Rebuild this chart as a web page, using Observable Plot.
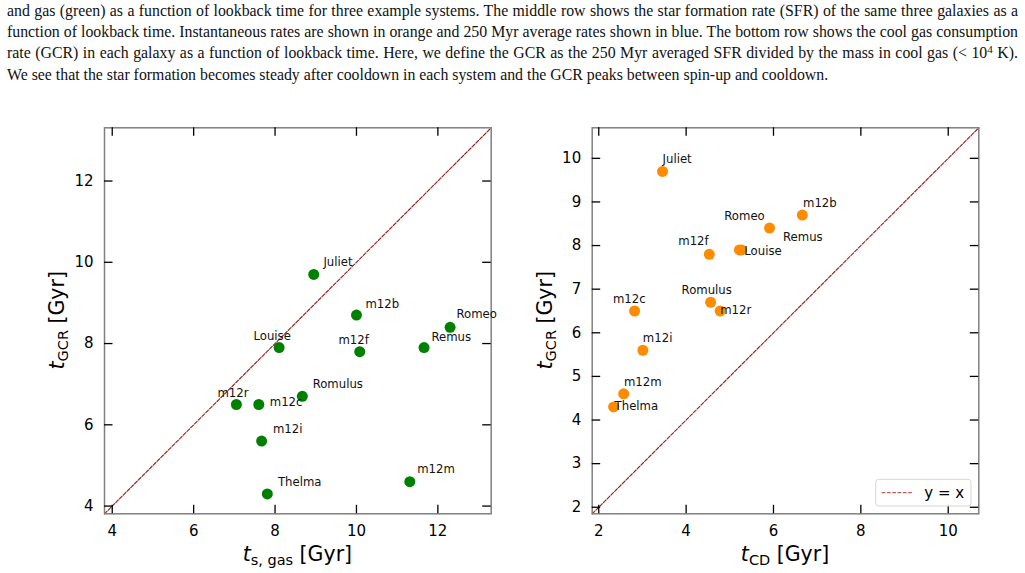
<!DOCTYPE html>
<html>
<head>
<meta charset="utf-8">
<script src="https://cdn.jsdelivr.net/npm/d3@7"></script>
<script src="https://cdn.jsdelivr.net/npm/@observablehq/plot@0.6"></script>
<style>
  body { margin: 0; background: #fff; width: 1025px; height: 573px; overflow: hidden; position: relative; }
  #caption { position: absolute; left: 7px; top: 0; width: 1011px; font-family: "Liberation Serif", "Times New Roman", serif; color: #111; }
  #caption .ln { position: absolute; left: 0; width: 1011px; white-space: nowrap; }
  #caption sup { font-size: 0.7em; vertical-align: baseline; position: relative; top: -0.45em; }
  .panel { position: absolute; top: 90px; }
  .panel svg { overflow: visible; }
</style>
</head>
<body>
<div id="caption"></div>
<div id="left" class="panel" style="left:0px"></div>
<div id="right" class="panel" style="left:512px"></div>
<script>
// ---- Data -------------------------------------------------------------
const galaxies = ["Juliet", "m12b", "Romeo", "Louise", "m12f", "Remus", "m12r", "m12c", "Romulus", "m12i", "Thelma", "m12m"];
// gas consumption timescale t_GCR [Gyr]
const tGCR  = [9.7, 8.7, 8.4, 7.9, 7.8, 7.9, 6.5, 6.5, 6.7, 5.6, 4.3, 4.6];
// gas spin-up time t_s,gas [Gyr]
const tSGas = [8.95, 10.0, 12.3, 8.1, 10.08, 11.66, 7.05, 7.6, 8.67, 7.67, 7.81, 11.31];
// cooldown time t_CD [Gyr]
const tCD   = [3.46, 6.66, 5.91, 5.27, 4.53, 5.22, 4.78, 2.82, 4.56, 3.01, 2.34, 2.57];

const leftTicks   = [4, 6, 8, 10, 12];
const rightXTicks = [2, 4, 6, 8, 10];
const rightYTicks = [2, 3, 4, 5, 6, 7, 8, 9, 10];
const leftLimits  = [3.81, 13.31];
const rightLimits = [1.85, 10.7];

// Caption lines
const captionLines = [
  "and gas (green) as a function of lookback time for three example systems. The middle row shows the star formation rate (SFR) of the same three galaxies as a",
  "function of lookback time. Instantaneous rates are shown in orange and 250 Myr average rates shown in blue. The bottom row shows the cool gas consumption",
  "rate (GCR) in each galaxy as a function of lookback time. Here, we define the GCR as the 250 Myr averaged SFR divided by the mass in cool gas (&lt; 10<sup>4</sup> K).",
  "We see that the star formation becomes steady after cooldown in each system and the GCR peaks between spin-up and cooldown."
];

// ---- Label placement (pixel offsets of each name from its dot) ---------
const leftLabelOffsets = {
  Juliet: [9.7, -12], m12b: [9, -11.3], Romeo: [6.4, -12.7], Louise: [-25.7, -11.7],
  m12f: [-21.3, -11.3], Remus: [7.4, -10.7], m12r: [-19, -11.7], m12c: [11, -2.3],
  Romulus: [10.3, -11.7], m12i: [11.3, -11.7], Thelma: [10.6, -11.6], m12m: [7.4, -12]
};
const rightLabelOffsets = {
  Juliet: [0, -12.4], m12b: [0.7, -12], Romeo: [-45.3, -12.3], Remus: [43.6, -12.4],
  Louise: [2.7, 1], m12f: [-31, -13], Romulus: [-29, -12], m12r: [0, -0.3],
  m12c: [-21.6, -11.7], m12i: [0, -12], m12m: [0.3, -12], Thelma: [1, -0.6]
};

// ---- Caption ------------------------------------------------------------
(function drawCaption() {
  const cap = document.getElementById("caption");
  const baselines = [15.8, 37.2, 58.5, 79.8];
  const lines = captionLines.map(html => {
    const d = document.createElement("div");
    d.className = "ln";
    const s = document.createElement("span");
    s.innerHTML = html;
    d.appendChild(s);
    cap.appendChild(d);
    return {d, s};
  });
  let fs = 15;
  lines.forEach(l => { l.d.style.fontSize = fs + "px"; });
  const w4 = lines[3].s.getBoundingClientRect().width;
  fs = fs * 822 / w4;
  lines.forEach((l, i) => {
    l.d.style.fontSize = fs + "px";
    l.d.style.lineHeight = fs + "px";
    l.d.style.top = (baselines[i] - 0.8375 * fs) + "px";
    if (i < 3) {
      const w = l.s.getBoundingClientRect().width;
      const spaces = (l.s.textContent.match(/ /g) || []).length;
      l.s.style.wordSpacing = ((1011 - w) / spaces) + "px";
    }
  });
})();

// ---- Panels -------------------------------------------------------------
const TICK = 8.5;
const DIAG = "#9a2020";

function panel({el, width, height, margin, xLimits, yLimits, xTicks, yTicks, xs, color, offsets, xSub, legend}) {
  const rows = galaxies.map((name, i) => ({name, x: xs[i], y: tGCR[i]}));
  const fw = width - margin.left - margin.right;
  const fh = height - margin.top - margin.bottom;
  const diag = xLimits.map(v => ({v}));

  const svg = Plot.plot({
    width, height,
    marginLeft: margin.left, marginRight: margin.right,
    marginTop: margin.top, marginBottom: margin.bottom,
    x: {domain: xLimits},
    y: {domain: yLimits},
    style: {fontFamily: "DejaVu Sans", fontSize: "15px", color: "#000", background: "transparent"},
    marks: [
      Plot.line(diag, {x: "v", y: "v", stroke: DIAG, strokeWidth: 1.15, strokeDasharray: "3.7,1.6"}),
      Plot.frame({stroke: "#808080", strokeWidth: 1.5}),
      // inward ticks on all four sides
      Plot.tickX(xTicks, {x: d => d, insetTop: fh - TICK, stroke: "#000", strokeWidth: 1.3}),
      Plot.tickX(xTicks, {x: d => d, insetBottom: fh - TICK, stroke: "#000", strokeWidth: 1.3}),
      Plot.tickY(yTicks, {y: d => d, insetRight: fw - TICK, stroke: "#000", strokeWidth: 1.3}),
      Plot.tickY(yTicks, {y: d => d, insetLeft: fw - TICK, stroke: "#000", strokeWidth: 1.3}),
      Plot.axisX(xTicks, {tickSize: 0, tickPadding: 12, fontSize: 15, label: null}),
      Plot.axisY(yTicks, {tickSize: 0, tickPadding: 11, fontSize: 15, label: null}),
      Plot.dot(rows, {x: "x", y: "y", r: 5.5, fill: color, stroke: "none"}),
      ...galaxies.map(name => Plot.text(rows.filter(d => d.name === name), {
        x: "x", y: "y", text: "name",
        dx: offsets[name][0], dy: offsets[name][1],
        textAnchor: "start", fontSize: 11.7, fill: "#111"
      }))
    ]
  });

  const s = d3.select(svg);
  function mathLabel(x, y, rotate, sub) {
    const t = s.append("text")
      .attr("transform", `translate(${x},${y})` + (rotate ? " rotate(-90)" : ""))
      .attr("text-anchor", "middle")
      .attr("font-family", "DejaVu Sans")
      .attr("font-size", 20.5)
      .attr("fill", "#000")
      .style("white-space", "pre");
    t.append("tspan").attr("font-style", "italic").text("t");
    t.append("tspan").attr("font-size", 14.5).attr("dy", 4).text(sub);
    t.append("tspan").attr("dy", -4).text(" [Gyr]");
  }
  mathLabel(margin.left + fw / 2, margin.top + fh + 47.3, false, xSub);
  mathLabel(margin.left - 40, margin.top + fh / 2, true, "GCR");

  if (legend) {
    const bw = 95.3, bh = 26.7;
    const bx = margin.left + fw - 7.3 - bw, by = margin.top + fh - 7.3 - bh;
    const g = s.append("g");
    g.append("rect").attr("x", bx).attr("y", by).attr("width", bw).attr("height", bh)
      .attr("rx", 3).attr("fill", "#fff").attr("fill-opacity", 0.8)
      .attr("stroke", "#d6d6d6").attr("stroke-width", 1);
    g.append("line").attr("x1", bx + 6).attr("x2", bx + 37.6)
      .attr("y1", by + 13.4).attr("y2", by + 13.4)
      .attr("stroke", DIAG).attr("stroke-opacity", 0.7).attr("stroke-width", 1.3)
      .attr("stroke-dasharray", "3.7,1.6");
    g.append("text").attr("x", bx + 48.6).attr("y", by + 13.4).attr("dy", "0.35em")
      .attr("text-anchor", "start")
      .attr("font-family", "DejaVu Sans").attr("font-size", 15).attr("fill", "#000")
      .text("y = x");
  }
  el.appendChild(svg);
}

panel({
  el: document.getElementById("left"),
  width: 512, height: 483,
  margin: {left: 104, right: 21.3, top: 37.3, bottom: 59.7},
  xLimits: leftLimits, yLimits: leftLimits,
  xTicks: leftTicks, yTicks: leftTicks,
  xs: tSGas, color: "#008000", offsets: leftLabelOffsets,
  xSub: "s, gas", legend: false
});

panel({
  el: document.getElementById("right"),
  width: 513, height: 483,
  margin: {left: 79.7, right: 46.7, top: 37.3, bottom: 59.7},
  xLimits: rightLimits, yLimits: rightLimits,
  xTicks: rightXTicks, yTicks: rightYTicks,
  xs: tCD, color: "#ff8c00", offsets: rightLabelOffsets,
  xSub: "CD", legend: true
});
</script>
</body>
</html>
